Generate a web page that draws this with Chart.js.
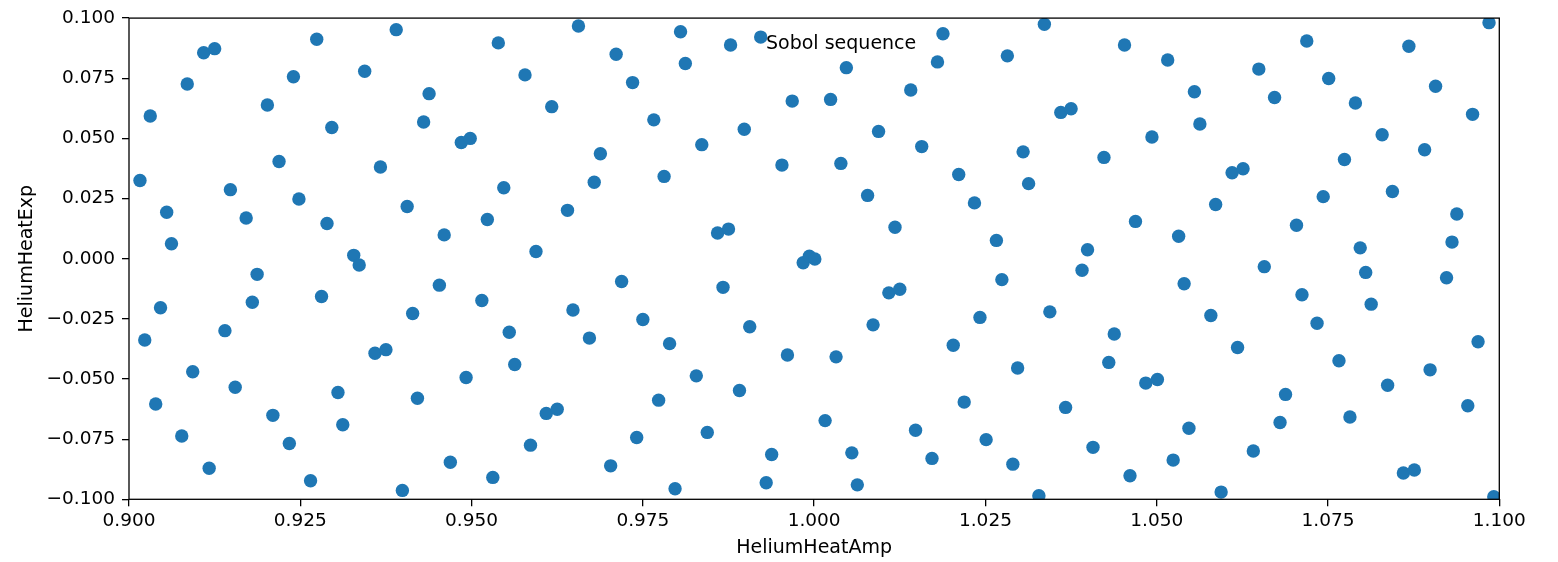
<!DOCTYPE html>
<html>
<head>
<meta charset="utf-8">
<script src="https://cdn.jsdelivr.net/npm/chart.js@4/dist/chart.umd.min.js"></script>
<style>
  html, body { margin: 0; padding: 0; background: #fff; }
  #wrap { width: 1558px; height: 562px; }
</style>
</head>
<body>
<div id="wrap"><canvas id="sobol" width="1558" height="562"></canvas></div>
<script>
// puntos (HeliumHeatAmp, HeliumHeatExp)
var heatAmp = [
  0.9109, 0.9125, 0.9240, 0.9085, 0.9031, 0.9202, 0.9219, 0.9016, 0.9148, 0.9248,
  0.9055, 0.9171, 0.9062, 0.9187, 0.9046, 0.9180, 0.9023, 0.9140, 0.9093, 0.9155,
  0.9039, 0.9210, 0.9077, 0.9234, 0.9117, 0.9274, 0.9390, 0.9344, 0.9438, 0.9296,
  0.9430, 0.9485, 0.9498, 0.9367, 0.9289, 0.9406, 0.9460, 0.9328, 0.9336, 0.9453,
  0.9281, 0.9414, 0.9359, 0.9375, 0.9492, 0.9305, 0.9421, 0.9312, 0.9469, 0.9265,
  0.9399, 0.9539, 0.9656, 0.9711, 0.9735, 0.9578, 0.9617, 0.9688, 0.9679, 0.9547,
  0.9523, 0.9640, 0.9594, 0.9719, 0.9515, 0.9648, 0.9750, 0.9555, 0.9672, 0.9563,
  0.9609, 0.9625, 0.9741, 0.9586, 0.9703, 0.9531, 0.9805, 0.9878, 0.9922, 0.9812,
  0.9968, 0.9766, 0.9898, 0.9836, 0.9953, 0.9781, 0.9859, 0.9875, 0.9984, 0.9993,
  0.9867, 0.9906, 0.9789, 0.9961, 0.9828, 0.9891, 0.9773, 0.9844, 0.9938, 0.9797,
  0.9930, 1.0188, 1.0047, 1.0180, 1.0024, 1.0141, 1.0094, 1.0157, 1.0039, 1.0211,
  1.0078, 1.0234, 1.0118, 1.0001, 1.0109, 1.0125, 1.0086, 1.0242, 1.0203, 1.0032,
  1.0219, 1.0016, 1.0148, 1.0055, 1.0172, 1.0063, 1.0336, 1.0453, 1.0282, 1.0360,
  1.0375, 1.0493, 1.0305, 1.0423, 1.0313, 1.0469, 1.0266, 1.0399, 1.0391, 1.0274,
  1.0344, 1.0438, 1.0430, 1.0297, 1.0484, 1.0367, 1.0251, 1.0407, 1.0290, 1.0461,
  1.0328, 1.0719, 1.0516, 1.0649, 1.0555, 1.0672, 1.0563, 1.0610, 1.0626, 1.0743,
  1.0586, 1.0532, 1.0704, 1.0657, 1.0540, 1.0712, 1.0579, 1.0734, 1.0618, 1.0501,
  1.0688, 1.0680, 1.0547, 1.0641, 1.0524, 1.0594, 1.0985, 1.0868, 1.0751, 1.0907,
  1.0790, 1.0961, 1.0829, 1.0891, 1.0774, 1.0844, 1.0938, 1.0931, 1.0797, 1.0805,
  1.0923, 1.0813, 1.0969, 1.0766, 1.0899, 1.0837, 1.0954, 1.0782, 1.0860, 1.0876,
  1.0992
];
var heatExp = [
  0.0856, 0.0873, 0.0756, 0.0726, 0.0593, 0.0639, 0.0404, 0.0325, 0.0287, 0.0248,
  0.0193, 0.0169, 0.0062, -0.0065, -0.0204, -0.0181, -0.0338, -0.0299, -0.0470, -0.0534,
  -0.0604, -0.0651, -0.0737, -0.0768, -0.0871, 0.0912, 0.0952, 0.0779, 0.0686, 0.0545,
  0.0568, 0.0483, 0.0500, 0.0381, 0.0146, 0.0217, 0.0099, 0.0014, -0.0026, -0.0110,
  -0.0157, -0.0228, -0.0393, -0.0378, -0.0494, -0.0556, -0.0580, -0.0690, -0.0846, -0.0923,
  -0.0963, 0.0897, 0.0967, 0.0850, 0.0732, 0.0764, 0.0632, 0.0436, 0.0318, 0.0295,
  0.0163, 0.0201, 0.0030, -0.0095, -0.0174, -0.0213, -0.0253, -0.0306, -0.0330, -0.0440,
  -0.0643, -0.0626, -0.0743, -0.0775, -0.0861, -0.0909, 0.0943, 0.0888, 0.0921, 0.0811,
  0.0655, 0.0577, 0.0538, 0.0474, 0.0389, 0.0342, 0.0107, 0.0123, -0.0017, 0.0010,
  -0.0119, -0.0283, -0.0353, -0.0400, -0.0487, -0.0548, -0.0588, -0.0722, -0.0814, -0.0956,
  -0.0931, 0.0935, 0.0794, 0.0818, 0.0662, 0.0701, 0.0529, 0.0466, 0.0396, 0.0350,
  0.0263, 0.0232, 0.0131, -0.0001, -0.0142, -0.0127, -0.0275, -0.0244, -0.0360, -0.0408,
  -0.0596, -0.0673, -0.0713, -0.0807, -0.0830, -0.0940, 0.0974, 0.0888, 0.0843, 0.0608,
  0.0623, 0.0506, 0.0444, 0.0421, 0.0312, 0.0155, 0.0076, 0.0037, -0.0048, -0.0087,
  -0.0221, -0.0313, -0.0431, -0.0454, -0.0517, -0.0618, -0.0752, -0.0784, -0.0854, -0.0902,
  -0.0985, 0.0905, 0.0826, 0.0788, 0.0694, 0.0670, 0.0560, 0.0357, 0.0374, 0.0258,
  0.0225, 0.0093, 0.0139, -0.0033, -0.0104, -0.0150, -0.0236, -0.0268, -0.0369, -0.0502,
  -0.0564, -0.0681, -0.0705, -0.0799, -0.0837, -0.0970, 0.0981, 0.0883, 0.0749, 0.0717,
  0.0647, 0.0600, 0.0515, 0.0453, 0.0412, 0.0279, 0.0186, 0.0069, 0.0045, -0.0057,
  -0.0079, -0.0189, -0.0345, -0.0424, -0.0462, -0.0526, -0.0611, -0.0658, -0.0891, -0.0878,
  -0.0989
];
var xTicks = [0.900, 0.925, 0.950, 0.975, 1.000, 1.025, 1.050, 1.075, 1.100];
var yTicks = [-0.100, -0.075, -0.050, -0.025, 0.000, 0.025, 0.050, 0.075, 0.100];
var titulo = "Sobol sequence";

var puntos = [];
for (let i = 0; i < heatAmp.length; i++) {
    puntos.push({x: heatAmp[i], y: heatExp[i]});
}

function etiqueta(v){
    return Number(v).toFixed(3).replace("-", "\u2212");
}

// marco completo y texto del titulo
var marco = {
    id: "marco",
    afterDraw(chart){
        const a = chart.chartArea;
        const ctx = chart.ctx;
        ctx.save();
        ctx.strokeStyle = "#000";
        ctx.lineWidth = 1.3;
        ctx.strokeRect(a.left, a.top, a.right - a.left, a.bottom - a.top);
        ctx.fillStyle = "#000";
        ctx.font = "19px 'DejaVu Sans'";
        ctx.textAlign = "left";
        ctx.textBaseline = "alphabetic";
        ctx.fillText(titulo, 766, 49);
        ctx.restore();
    }
};

Chart.defaults.font.family = "'DejaVu Sans'";
Chart.defaults.font.size = 18.5;
Chart.defaults.color = "#000";

var ctx = document.getElementById("sobol").getContext("2d");
var chart = new Chart(ctx, {
    "type": "scatter",
    "data": {
        "datasets": [{
            "label": titulo,
            "data": puntos,
            "backgroundColor": "#1f77b4",
            "borderWidth": 0,
            "pointRadius": 6.7,
            "pointHoverRadius": 6.7
        }]
    },
    "plugins": [marco],
    "options": {
        "responsive": false,
        "animation": false,
        "devicePixelRatio": 1,
        "layout": { "padding": { "top": 16, "right": 58.7, "left": 0, "bottom": 0 } },
        "plugins": { "legend": { "display": false }, "tooltip": { "enabled": false } },
        "scales": {
            "x": {
                "type": "linear",
                "min": 0.9,
                "max": 1.1,
                "afterFit": function(s){ s.height = 62.7; },
                "afterBuildTicks": function(s){ s.ticks = xTicks.map(v => ({value: v})); },
                "ticks": { "padding": 4, "maxRotation": 0, "autoSkip": false, "callback": etiqueta },
                "grid": { "drawOnChartArea": false, "tickLength": 7, "color": "#000", "lineWidth": 1.3 },
                "border": { "display": false },
                "title": { "display": true, "text": "HeliumHeatAmp", "font": { "size": 19 }, "padding": { "top": 0, "bottom": 3 } }
            },
            "y": {
                "type": "linear",
                "min": -0.1,
                "max": 0.1,
                "afterFit": function(s){ s.width = 129; },
                "afterBuildTicks": function(s){ s.ticks = yTicks.map(v => ({value: v})); },
                "ticks": { "padding": 7, "autoSkip": false, "callback": etiqueta },
                "grid": { "drawOnChartArea": false, "tickLength": 7, "color": "#000", "lineWidth": 1.3 },
                "border": { "display": false },
                "title": { "display": true, "text": "HeliumHeatExp", "font": { "size": 19 }, "padding": { "top": 16, "bottom": 0 } }
            }
        }
    }
});
</script>
</body>
</html>
